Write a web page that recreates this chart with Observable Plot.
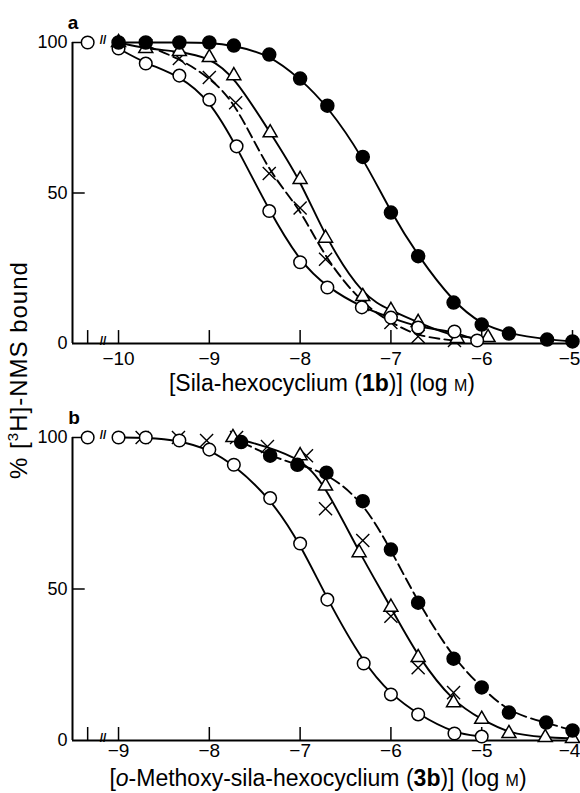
<!DOCTYPE html>
<html><head><meta charset="utf-8">
<script src="https://cdn.jsdelivr.net/npm/d3@7"></script>
<script src="https://cdn.jsdelivr.net/npm/@observablehq/plot@0.6"></script>
<style>
body{margin:0;background:#fff;}
#wrap{position:relative;width:580px;height:793px;font-family:"Liberation Sans",Arial,sans-serif;color:#000;overflow:hidden;}
.abs{position:absolute;white-space:nowrap;line-height:1;}
.panel{position:absolute;left:0;}
</style></head><body><div id="wrap"></div>
<script>
// ---- Panel a: Sila-hexocyclium (1b) ----
const aTicks = [-10, -9, -8, -7, -6, -5];
const aOpenX = [-10, -9.7, -9.33, -9, -8.7, -8.34, -8, -7.7, -7.32, -7, -6.7, -6.3, -6.05];
const aOpenY = [98, 93, 89, 81, 65.5, 44, 27, 18.6, 12, 8.6, 5.3, 4, 1];
const aFilledX = [-10, -9.7, -9.33, -9, -8.73, -8.34, -8, -7.7, -7.31, -7, -6.7, -6.31, -6, -5.7, -5.28, -5];
const aFilledY = [100, 100, 100, 100, 99, 96, 88, 79, 62, 43.5, 29, 13.6, 6.3, 3.3, 1.3, 0.7];
const aTriX = [-10, -9.7, -9.33, -9, -8.73, -8.33, -8, -7.72, -7.31, -7, -6.7, -6.27, -5.93];
const aTriY = [100, 98, 97, 95, 89, 70, 54.5, 35, 15.6, 11, 7, 1.7, 2];
const aCrossX = [-9.7, -9.33, -9, -8.71, -8.34, -8, -7.72, -7.31, -7, -6.7, -6.3];
const aCrossY = [99, 94.7, 88.4, 80, 56.5, 45, 28, 13, 7, 2.3, 1];

// ---- Panel b: o-Methoxy-sila-hexocyclium (3b) ----
const bTicks = [-9, -8, -7, -6, -5, -4];
const bOpenX = [-9, -8.7, -8.33, -8, -7.73, -7.33, -7, -6.7, -6.3, -6, -5.7, -5.3, -5];
const bOpenY = [100, 100, 99, 96, 91, 80, 65, 46.5, 25.4, 15.2, 8.6, 2.3, 1.3];
const bFilledX = [-7.65, -7.33, -7.03, -6.71, -6.31, -6, -5.7, -5.31, -5, -4.7, -4.29, -4];
const bFilledY = [98.5, 94, 91, 88.4, 79, 63, 45.5, 27, 17.5, 9.2, 5.9, 3.3];
const bTriX = [-7.74, -7.0, -6.72, -6.35, -6, -5.7, -5.31, -5, -4.7, -4.3, -4];
const bTriY = [100, 94, 84, 62, 44, 27.4, 12.5, 7, 2.3, 1, 0.7];
const bCrossX = [-8.74, -8.34, -8.03, -7.7, -7.36, -6.93, -6.72, -6.31, -6, -5.7, -5.31];
const bCrossY = [100, 100, 99, 100, 97, 94, 76.5, 66, 41, 24, 15.8];

const yTicks = [0, 50, 100];

function panel({domain, ticks, ctrlX, breakX, marginBottom, xPad, lines, dots}) {
  const x0 = domain[0];
  const fmt = d => "\u2212" + Math.abs(d);
  const inner = ticks.slice(0, -1), last = ticks.slice(-1);
  return Plot.plot({
    width: 580, height: 380, marginLeft: 72, marginRight: 8, marginTop: 42, marginBottom,
    x: {domain, axis: null},
    y: {domain: [0, 100], axis: null},
    style: {fontFamily: "Liberation Sans, Arial, sans-serif", fontSize: "18px", background: "transparent", overflow: "visible"},
    marks: [
      Plot.ruleY([0], {x1: domain[0], x2: domain[1], strokeWidth: 2}),
      Plot.ruleX([x0], {y1: 0, y2: 100, strokeWidth: 2}),
      Plot.ruleX([ctrlX, ...ticks], {y1: 0, y2: 4.3, strokeWidth: 1.5}),
      Plot.ruleY([50, 100], {x1: x0, x2: x0 + 0.14, strokeWidth: 1.5}),
      Plot.axisX({ticks: inner, tickSize: 0, tickPadding: xPad, tickFormat: fmt, fontSize: 19, label: null}),
      Plot.axisX({ticks: last, tickSize: 0, tickPadding: xPad, tickFormat: fmt, fontSize: 19, label: null, dx: -3}),
      Plot.axisY({ticks: yTicks, tickSize: 0, tickPadding: 5, fontSize: 18, label: null}),
      Plot.text(["//", "//"], {x: [breakX, breakX], y: [0, 100], fontSize: 12, fontWeight: "bold", dy: -2}),
      ...lines.map(([X, Y, dash]) => Plot.line(X, {x: X, y: Y, curve: "basis", stroke: "black", strokeWidth: 1.9, strokeDasharray: dash})),
      ...dots.map(([X, Y, kind]) => {
        if (kind === "times") return Plot.dot(X, {x: X, y: Y, symbol: "times", r: 6, stroke: "black", strokeWidth: 1.4});
        if (kind === "triangle") return Plot.dot(X, {x: X, y: Y, symbol: "triangle", r: 5.2, fill: "white", stroke: "black", strokeWidth: 1.5});
        if (kind === "open") return Plot.dot(X, {x: X, y: Y, r: 6.3, fill: "white", stroke: "black", strokeWidth: 1.5});
        return Plot.dot(X, {x: X, y: Y, r: 6.5, fill: "black", stroke: "black"});
      }),
      Plot.dot([ctrlX], {x: [ctrlX], y: [100], r: 6.3, fill: "white", stroke: "black", strokeWidth: 1.5})
    ]
  });
}

const wrap = document.getElementById("wrap");

const pa = panel({
  domain: [-10.507, -5], ticks: aTicks, ctrlX: -10.34, breakX: -10.17, marginBottom: 37, xPad: 8,
  lines: [[aOpenX, aOpenY, null], [aTriX, aTriY, null], [aCrossX, aCrossY, "10,5"], [aFilledX, aFilledY, null]],
  dots: [[aCrossX, aCrossY, "times"], [aTriX, aTriY, "triangle"], [aOpenX, aOpenY, "open"], [aFilledX, aFilledY, "filled"]]
});
pa.classList.add("panel"); pa.style.top = "0px";
wrap.appendChild(pa);

const pb = panel({
  domain: [-9.507, -4], ticks: bTicks, ctrlX: -9.34, breakX: -9.17, marginBottom: 35, xPad: 3,
  lines: [[bOpenX, bOpenY, null], [bTriX, bTriY, null], [bFilledX, bFilledY, "11,5"]],
  dots: [[bCrossX, bCrossY, "times"], [bTriX, bTriY, "triangle"], [bOpenX, bOpenY, "open"], [bFilledX, bFilledY, "filled"]]
});
pb.classList.add("panel"); pb.style.top = "395px";
wrap.appendChild(pb);

function addText(html, left, top, css) {
  const d = document.createElement("div");
  d.className = "abs";
  d.innerHTML = html;
  d.style.left = left + "px"; d.style.top = top + "px";
  Object.assign(d.style, css || {});
  wrap.appendChild(d);
  return d;
}
addText("a", 73, 22, {fontWeight: "bold", fontSize: "19px", transform: "translate(-50%,-50%)"});
addText("b", 74, 417, {fontWeight: "bold", fontSize: "19px", transform: "translate(-50%,-50%)"});
addText("[Sila-hexocyclium (<b>1b</b>)] (log <span style='font-size:16px'>M</span>)", 322, 383, {fontSize: "23px", transform: "translate(-50%,-50%)"});
addText("[<i>o</i>-Methoxy-sila-hexocyclium (<b>3b</b>)] (log <span style='font-size:16px'>M</span>)", 318, 778, {fontSize: "23px", transform: "translate(-50%,-50%)"});
addText("% [<sup style='font-size:15px'>3</sup>H]-NMS bound", 18, 370, {fontSize: "24px", letterSpacing: "1px", transform: "translate(-50%,-50%) rotate(-90deg)"});
</script>
</body></html>
